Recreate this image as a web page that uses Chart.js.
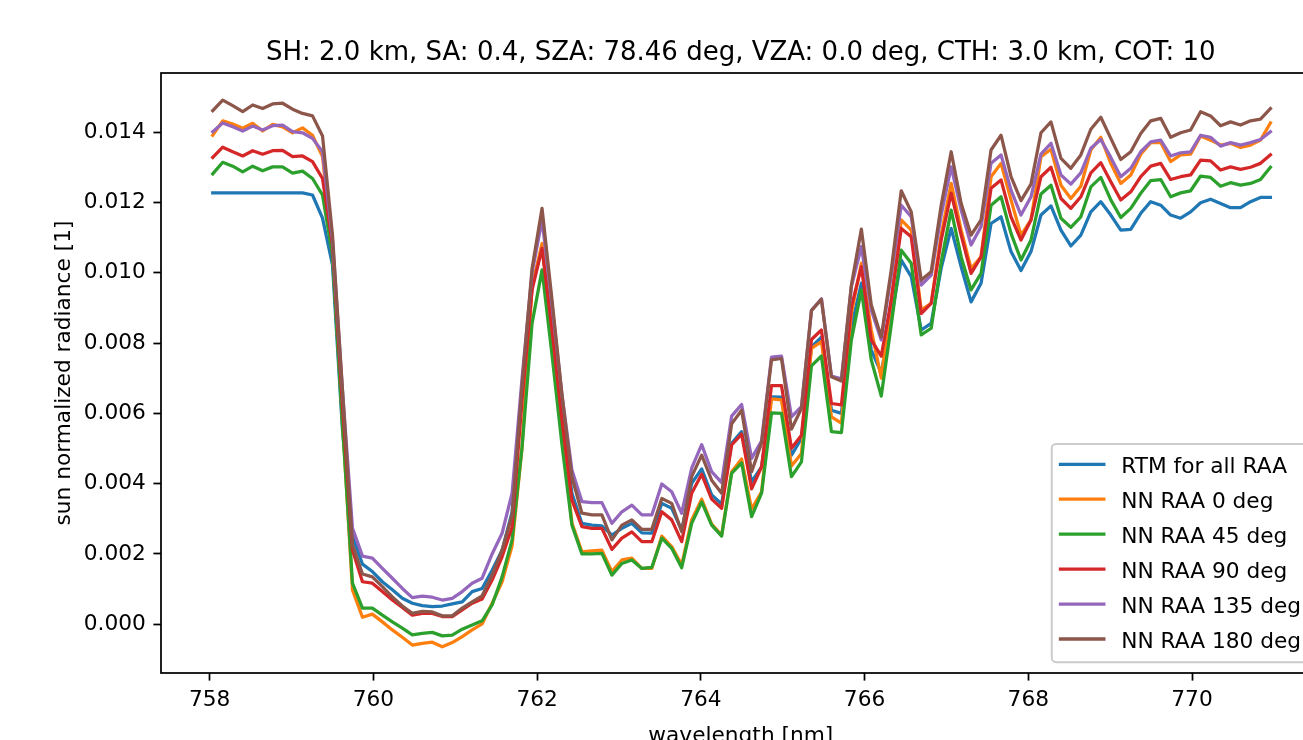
<!DOCTYPE html>
<html>
<head>
<meta charset="utf-8">
<title>sun normalized radiance</title>
<script src="https://cdn.jsdelivr.net/npm/chart.js@4.4.1/dist/chart.umd.min.js"></script>
<style>
  html, body { margin: 0; padding: 0; background: #fff; overflow: hidden; }
  #wrap { position: absolute; left: 0; top: 0; width: 1340px; height: 760px; }
</style>
</head>
<body>
<div id="wrap"><canvas id="myChart" width="1340" height="760"></canvas></div>
<script>
// wavelength grid [nm]
var wavelengthNm = [
  758.037, 758.159, 758.281, 758.403, 758.525, 758.647, 758.768, 758.890, 759.012, 759.134,
  759.256, 759.378, 759.500, 759.622, 759.744, 759.866, 759.987, 760.109, 760.231, 760.353,
  760.475, 760.597, 760.719, 760.841, 760.963, 761.085, 761.206, 761.328, 761.450, 761.572,
  761.694, 761.816, 761.938, 762.060, 762.182, 762.304, 762.425, 762.547, 762.669, 762.791,
  762.913, 763.035, 763.157, 763.279, 763.401, 763.523, 763.644, 763.766, 763.888, 764.010,
  764.132, 764.254, 764.376, 764.498, 764.620, 764.742, 764.863, 764.985, 765.107, 765.229,
  765.351, 765.473, 765.595, 765.717, 765.839, 765.961, 766.082, 766.204, 766.326, 766.448,
  766.570, 766.692, 766.814, 766.936, 767.058, 767.180, 767.301, 767.423, 767.545, 767.667,
  767.789, 767.911, 768.033, 768.155, 768.277, 768.399, 768.520, 768.642, 768.764, 768.886,
  769.008, 769.130, 769.252, 769.374, 769.496, 769.618, 769.739, 769.861, 769.983, 770.105,
  770.227, 770.349, 770.471, 770.593, 770.715, 770.837, 770.958
];

var rtmAll = [
  0.01227, 0.01227, 0.01227, 0.01227, 0.01227, 0.01227, 0.01227, 0.01227, 0.01227, 0.01227,
  0.01221, 0.01155, 0.01022, 0.00553, 0.00251, 0.00171, 0.00150, 0.00121, 0.00098, 0.00074,
  0.00060, 0.00053, 0.00050, 0.00052, 0.00058, 0.00064, 0.00093, 0.00102, 0.00154, 0.00211,
  0.00319, 0.00661, 0.00960, 0.01074, 0.00843, 0.00595, 0.00373, 0.00287, 0.00282, 0.00280,
  0.00254, 0.00273, 0.00287, 0.00260, 0.00259, 0.00344, 0.00330, 0.00268, 0.00401, 0.00442,
  0.00368, 0.00342, 0.00515, 0.00548, 0.00406, 0.00448, 0.00647, 0.00646, 0.00481, 0.00529,
  0.00789, 0.00817, 0.00609, 0.00600, 0.00846, 0.00970, 0.00780, 0.00715, 0.00871, 0.01036,
  0.00989, 0.00837, 0.00856, 0.01013, 0.01126, 0.01017, 0.00917, 0.00970, 0.01140, 0.01159,
  0.01060, 0.01006, 0.01060, 0.01164, 0.01190, 0.01121, 0.01076, 0.01107, 0.01173, 0.01202,
  0.01164, 0.01121, 0.01123, 0.01169, 0.01202, 0.01192, 0.01164, 0.01155, 0.01173, 0.01199,
  0.01209, 0.01197, 0.01185, 0.01185, 0.01202, 0.01214, 0.01214
];

var nnRaa0 = [
  0.01391, 0.01432, 0.01423, 0.01411, 0.01425, 0.01403, 0.01422, 0.01415, 0.01398, 0.01412,
  0.01391, 0.01330, 0.01064, 0.00581, 0.00098, 0.00020, 0.00029, 0.00007, -0.00016, -0.00037,
  -0.00059, -0.00054, -0.00051, -0.00064, -0.00052, -0.00035, -0.00016, 0.00001, 0.00060, 0.00121,
  0.00223, 0.00504, 0.00960, 0.01083, 0.00823, 0.00553, 0.00288, 0.00206, 0.00209, 0.00211,
  0.00150, 0.00183, 0.00188, 0.00159, 0.00159, 0.00251, 0.00221, 0.00169, 0.00297, 0.00356,
  0.00285, 0.00254, 0.00434, 0.00470, 0.00328, 0.00377, 0.00641, 0.00638, 0.00450, 0.00486,
  0.00785, 0.00804, 0.00590, 0.00572, 0.00885, 0.01027, 0.00837, 0.00700, 0.00922, 0.01150,
  0.01121, 0.00894, 0.00913, 0.01107, 0.01254, 0.01121, 0.01012, 0.01045, 0.01273, 0.01311,
  0.01207, 0.01107, 0.01150, 0.01330, 0.01351, 0.01249, 0.01211, 0.01246, 0.01349, 0.01385,
  0.01311, 0.01254, 0.01278, 0.01337, 0.01370, 0.01370, 0.01316, 0.01335, 0.01337, 0.01389,
  0.01377, 0.01363, 0.01368, 0.01356, 0.01363, 0.01377, 0.01426
];

var nnRaa45 = [
  0.01281, 0.01314, 0.01303, 0.01287, 0.01303, 0.01290, 0.01301, 0.01301, 0.01283, 0.01289,
  0.01268, 0.01221, 0.01050, 0.00567, 0.00117, 0.00046, 0.00046, 0.00026, 0.00007, -0.00011,
  -0.00030, -0.00026, -0.00023, -0.00033, -0.00031, -0.00014, -0.00002, 0.00010, 0.00055, 0.00135,
  0.00240, 0.00504, 0.00856, 0.01008, 0.00766, 0.00510, 0.00282, 0.00200, 0.00200, 0.00202,
  0.00140, 0.00173, 0.00183, 0.00159, 0.00162, 0.00245, 0.00216, 0.00161, 0.00287, 0.00348,
  0.00282, 0.00251, 0.00429, 0.00459, 0.00306, 0.00373, 0.00601, 0.00600, 0.00420, 0.00462,
  0.00735, 0.00763, 0.00548, 0.00545, 0.00809, 0.00951, 0.00752, 0.00649, 0.00851, 0.01064,
  0.01027, 0.00823, 0.00842, 0.01030, 0.01178, 0.01045, 0.00951, 0.00998, 0.01192, 0.01216,
  0.01112, 0.01036, 0.01093, 0.01224, 0.01249, 0.01155, 0.01129, 0.01159, 0.01244, 0.01271,
  0.01207, 0.01157, 0.01183, 0.01226, 0.01262, 0.01265, 0.01216, 0.01227, 0.01233, 0.01275,
  0.01271, 0.01246, 0.01256, 0.01249, 0.01254, 0.01265, 0.01300
];

var nnRaa90 = [
  0.01328, 0.01357, 0.01344, 0.01332, 0.01347, 0.01337, 0.01347, 0.01348, 0.01330, 0.01332,
  0.01316, 0.01268, 0.01079, 0.00624, 0.00211, 0.00121, 0.00117, 0.00093, 0.00069, 0.00048,
  0.00026, 0.00031, 0.00031, 0.00022, 0.00022, 0.00041, 0.00060, 0.00072, 0.00126, 0.00192,
  0.00277, 0.00638, 0.00951, 0.01069, 0.00837, 0.00581, 0.00353, 0.00278, 0.00273, 0.00273,
  0.00213, 0.00245, 0.00263, 0.00235, 0.00235, 0.00320, 0.00297, 0.00235, 0.00373, 0.00427,
  0.00356, 0.00330, 0.00510, 0.00541, 0.00385, 0.00448, 0.00679, 0.00679, 0.00501, 0.00538,
  0.00810, 0.00837, 0.00628, 0.00624, 0.00903, 0.01017, 0.00809, 0.00763, 0.00922, 0.01126,
  0.01102, 0.00884, 0.00913, 0.01093, 0.01226, 0.01107, 0.00998, 0.01045, 0.01240, 0.01264,
  0.01159, 0.01093, 0.01150, 0.01273, 0.01300, 0.01211, 0.01183, 0.01216, 0.01284, 0.01313,
  0.01259, 0.01207, 0.01230, 0.01273, 0.01303, 0.01311, 0.01265, 0.01273, 0.01278, 0.01320,
  0.01318, 0.01292, 0.01301, 0.01294, 0.01300, 0.01311, 0.01335
];

var nnRaa135 = [
  0.01401, 0.01426, 0.01415, 0.01403, 0.01417, 0.01406, 0.01418, 0.01420, 0.01401, 0.01398,
  0.01382, 0.01344, 0.01093, 0.00666, 0.00274, 0.00194, 0.00188, 0.00159, 0.00131, 0.00102,
  0.00076, 0.00080, 0.00077, 0.00069, 0.00074, 0.00093, 0.00117, 0.00131, 0.00200, 0.00259,
  0.00373, 0.00700, 0.00999, 0.01150, 0.00908, 0.00652, 0.00439, 0.00349, 0.00346, 0.00346,
  0.00287, 0.00320, 0.00339, 0.00311, 0.00311, 0.00399, 0.00377, 0.00316, 0.00444, 0.00511,
  0.00434, 0.00403, 0.00592, 0.00625, 0.00472, 0.00522, 0.00760, 0.00763, 0.00590, 0.00619,
  0.00893, 0.00926, 0.00706, 0.00698, 0.00960, 0.01074, 0.00894, 0.00809, 0.00993, 0.01192,
  0.01159, 0.00965, 0.00993, 0.01164, 0.01301, 0.01178, 0.01079, 0.01131, 0.01311, 0.01335,
  0.01235, 0.01164, 0.01216, 0.01337, 0.01368, 0.01278, 0.01252, 0.01284, 0.01354, 0.01379,
  0.01328, 0.01273, 0.01297, 0.01344, 0.01372, 0.01377, 0.01332, 0.01341, 0.01344, 0.01391,
  0.01385, 0.01360, 0.01370, 0.01363, 0.01370, 0.01379, 0.01401
];

var nnRaa180 = [
  0.01461, 0.01491, 0.01475, 0.01458, 0.01477, 0.01467, 0.01480, 0.01482, 0.01465, 0.01453,
  0.01446, 0.01389, 0.01107, 0.00666, 0.00226, 0.00143, 0.00135, 0.00107, 0.00078, 0.00052,
  0.00031, 0.00037, 0.00035, 0.00024, 0.00024, 0.00046, 0.00064, 0.00081, 0.00140, 0.00211,
  0.00311, 0.00681, 0.01012, 0.01183, 0.00922, 0.00652, 0.00419, 0.00316, 0.00311, 0.00311,
  0.00240, 0.00282, 0.00297, 0.00270, 0.00270, 0.00358, 0.00344, 0.00263, 0.00420, 0.00481,
  0.00410, 0.00373, 0.00570, 0.00609, 0.00434, 0.00516, 0.00752, 0.00756, 0.00555, 0.00614,
  0.00892, 0.00924, 0.00704, 0.00692, 0.00965, 0.01124, 0.00908, 0.00817, 0.01008, 0.01233,
  0.01173, 0.00979, 0.01003, 0.01192, 0.01344, 0.01197, 0.01107, 0.01150, 0.01349, 0.01391,
  0.01273, 0.01205, 0.01252, 0.01398, 0.01429, 0.01325, 0.01297, 0.01335, 0.01408, 0.01442,
  0.01382, 0.01322, 0.01344, 0.01396, 0.01432, 0.01439, 0.01385, 0.01398, 0.01406, 0.01458,
  0.01446, 0.01418, 0.01429, 0.01420, 0.01432, 0.01437, 0.01467
];

var seriesLabels = ["RTM for all RAA", "NN RAA 0 deg", "NN RAA 45 deg", "NN RAA 90 deg", "NN RAA 135 deg", "NN RAA 180 deg"];
var seriesValues = [rtmAll, nnRaa0, nnRaa45, nnRaa90, nnRaa135, nnRaa180];
var seriesColors = ["#1f77b4", "#ff7f0e", "#2ca02c", "#d62728", "#9467bd", "#8c564b"];

var xTickValues = [758, 760, 762, 764, 766, 768, 770];
var yTickValues = [0.000, 0.002, 0.004, 0.006, 0.008, 0.010, 0.012, 0.014];

var chartTitle = "SH: 2.0 km, SA: 0.4, SZA: 78.46 deg, VZA: 0.0 deg, CTH: 3.0 km, COT: 10";
var xAxisLabel = "wavelength [nm]";
var yAxisLabel = "sun normalized radiance [1]";

// matplotlib-like sizes (10pt at ~156 dpi)
var FONT = "DejaVu Sans";
var fs = 21.7;
var lw = 3.26;

var datasets = seriesValues.map(function (vals, i) {
	return {
		label: seriesLabels[i],
		data: wavelengthNm.map(function (w, k) { return { x: w, y: vals[k] }; }),
		borderColor: seriesColors[i],
		backgroundColor: seriesColors[i],
		borderWidth: lw,
		borderJoinStyle: "round",
		borderCapStyle: "square",
		pointRadius: 0,
		pointHoverRadius: 0,
		tension: 0,
		fill: false,
		order: seriesValues.length - 1 - i, // later series drawn on top
	};
});

// frame, titles and the legend box drawn on top
var decorations = {
	id: "decorations",
	afterDraw: function (chart) {
		var ctx = chart.ctx;
		var a = chart.chartArea;
		ctx.save();
		ctx.strokeStyle = "#000";
		ctx.lineWidth = 1.74;
		ctx.strokeRect(a.left, a.top, a.right - a.left, a.bottom - a.top);

		ctx.fillStyle = "#000";
		ctx.textAlign = "center";
		ctx.textBaseline = "alphabetic";
		var cx = (a.left + a.right) / 2;
		ctx.font = "26px '" + FONT + "'";
		ctx.fillText(chartTitle, cx, a.top - 13);
		ctx.font = fs + "px '" + FONT + "'";
		ctx.fillText(xAxisLabel, cx, 741.5);
		ctx.save();
		ctx.translate(69.5, (a.top + a.bottom) / 2);
		ctx.rotate(-Math.PI / 2);
		ctx.fillText(yAxisLabel, 0, 0);
		ctx.restore();

		// legend, lower right
		var pad = 0.4 * fs, handleLen = 2.0 * fs, textPad = 0.8 * fs;
		var maxW = 0;
		seriesLabels.forEach(function (s) { maxW = Math.max(maxW, ctx.measureText(s).width); });
		var boxW = pad + handleLen + textPad + maxW + pad;
		var boxRight = a.right - 0.5 * fs;
		var boxBottom = a.bottom - 0.5 * fs;
		var boxTop = 444;
		var boxLeft = boxRight - boxW;
		ctx.beginPath();
		ctx.roundRect(boxLeft, boxTop, boxW, boxBottom - boxTop, 4.3);
		ctx.fillStyle = "rgba(255,255,255,0.8)";
		ctx.fill();
		ctx.strokeStyle = "#cccccc";
		ctx.lineWidth = 2;
		ctx.stroke();

		ctx.textAlign = "left";
		var rowStep = 34.94;
		var firstRow = boxTop + 20.3;
		seriesLabels.forEach(function (s, i) {
			var y = firstRow + i * rowStep;
			ctx.beginPath();
			ctx.moveTo(boxLeft + pad, y);
			ctx.lineTo(boxLeft + pad + handleLen, y);
			ctx.strokeStyle = seriesColors[i];
			ctx.lineWidth = lw;
			ctx.lineCap = "square";
			ctx.stroke();
			ctx.fillStyle = "#000";
			ctx.fillText(s, boxLeft + pad + handleLen + textPad, y + 8.8);
		});
		ctx.restore();
	},
};

var ctx = document.getElementById("myChart").getContext("2d");
var myChart = new Chart(ctx, {
	type: "line",
	data: { datasets: datasets },
	options: {
		responsive: false,
		maintainAspectRatio: false,
		devicePixelRatio: 1,
		animation: false,
		layout: { padding: { left: 0, top: 73, right: 19.4, bottom: 0 } },
		plugins: {
			legend: { display: false },
			title: { display: false },
			tooltip: { enabled: false },
		},
		scales: {
			x: {
				type: "linear",
				min: 757.405,
				max: 771.571,
				afterFit: function (scale) { scale.height = 87; },
				afterBuildTicks: function (scale) {
					scale.ticks = xTickValues.map(function (v) { return { value: v }; });
				},
				border: { display: false },
				grid: { display: true, drawOnChartArea: false, drawTicks: true, tickLength: 7.6, tickWidth: 1.74, tickColor: "#000" },
				ticks: {
					color: "#000",
					padding: 6.4,
					maxRotation: 0,
					autoSkip: false,
					font: { family: FONT, size: fs },
					callback: function (v) { return String(v); },
				},
			},
			y: {
				type: "linear",
				min: -0.001385,
				max: 0.01568,
				afterFit: function (scale) { scale.width = 161; },
				afterBuildTicks: function (scale) {
					scale.ticks = yTickValues.map(function (v) { return { value: v }; });
				},
				border: { display: false },
				grid: { display: true, drawOnChartArea: false, drawTicks: true, tickLength: 7.6, tickWidth: 1.74, tickColor: "#000" },
				ticks: {
					color: "#000",
					padding: 7.6,
					autoSkip: false,
					font: { family: FONT, size: fs },
					callback: function (v) { return v.toFixed(3); },
				},
			},
		},
	},
	plugins: [decorations],
});
</script>
</body>
</html>
